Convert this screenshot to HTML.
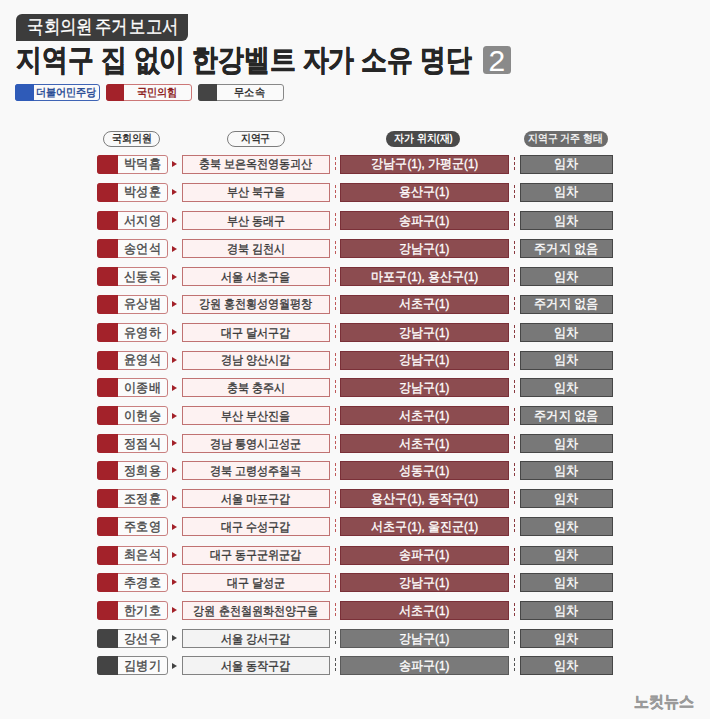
<!DOCTYPE html>
<html><head><meta charset="utf-8"><style>
*{margin:0;padding:0;box-sizing:border-box}
html,body{width:710px;height:719px;overflow:hidden}
body{background:#f9f9f9;font-family:"Liberation Sans",sans-serif;position:relative;color:#333}
span{display:inline-block;white-space:nowrap;transform-origin:50% 50%}
.badge{position:absolute;left:16px;top:14px;width:172px;height:26.5px;background:#3c3c3c;border-radius:6px 0 6px 0;color:#fff;font-size:19px;line-height:26.5px;text-align:center}
.badge span{transform:scaleX(0.86);word-spacing:-3px;-webkit-text-stroke:0.3px #fff;position:relative;left:-1.5px}
.title{position:absolute;left:16px;top:40px;font-size:30px;font-weight:bold;color:#262626;line-height:40px;white-space:nowrap;transform:scaleX(0.86);transform-origin:0 0;-webkit-text-stroke:0.6px #262626}
.num{position:absolute;left:483px;top:46.4px;width:27.5px;height:28px;background:#8a8a8a;border-radius:3.5px;color:#fff;font-size:30px;line-height:29px;text-align:center}
.lg{position:absolute;top:84.3px;height:17px;width:86px;border:1px solid;border-radius:3px;background:#fafafa;font-size:11px;font-weight:bold;line-height:15px}
.lg i{position:absolute;left:-1px;top:-1px;bottom:-1px;width:18px;border-radius:3px 0 0 3px}
.lg p{position:absolute;left:17px;right:0;text-align:center}
.lg span{transform:scaleX(0.92)}
.lb{left:15px;width:85px;border-color:#3f64b5;color:#2d4f96}
.lb i{background:#2f5bb8;width:18.5px}
.lr{left:105.6px;border-color:#c77;color:#8e1f1f}
.lr i{background:#a3222a}
.lk{left:197.7px;border-color:#888;color:#333}
.lk i{background:#444;width:19px}
.hp{position:absolute;top:130.6px;height:16.6px;border-radius:9px;font-size:10.5px;line-height:13.6px;text-align:center;font-weight:bold}
.hp span{transform:scaleX(0.9)}
.h1{left:103.4px;width:56.8px;border:1.6px solid #7c7c7c;color:#333}
.h2{left:227px;width:57.6px;border:1.6px solid #7c7c7c;color:#333}
.h3{left:385.7px;width:74.8px;background:#4a4a4a;color:#fff;line-height:15px}
.h4{left:523.8px;width:84px;background:#6c6c6c;color:#f0f0f0;line-height:15px}
.row{position:absolute;left:0;width:710px;height:19px}
.row span{position:relative;top:0.8px}
.nm{position:absolute;left:97.3px;top:0;width:70.6px;height:19px;border:1px solid;border-radius:3px;background:#fbfbfb;font-size:12px;line-height:17px;font-weight:normal;color:#474747;-webkit-text-stroke:0.35px #474747}
.nm i{position:absolute;left:-1px;top:-1px;bottom:-1px;width:20.5px;border-radius:3px 0 0 3px}
.nm p{position:absolute;left:19.5px;right:0;text-align:center}
.nm span{transform:scaleX(0.93);font-size:12.5px}
.ar{position:absolute;left:172px;top:6.4px;width:0;height:0;border-left:5px solid;border-top:3.6px solid transparent;border-bottom:3.6px solid transparent}
.rg{position:absolute;left:182.2px;top:0;width:147.7px;height:19px;border:1px solid;font-size:12px;line-height:17px;text-align:center;font-weight:normal;color:#383838;-webkit-text-stroke:0.35px #383838}
.rg span{transform:scaleX(0.92)}
.d1,.d2{position:absolute;top:2.2px;height:13px;width:1px}
.d1{left:335px}.d2{left:514px}
.pp{position:absolute;left:340.4px;top:0;width:168.3px;height:19px;border:1px solid;font-size:12px;line-height:17px;text-align:center;color:#fff;font-weight:normal;-webkit-text-stroke:0.35px #fff}
.pp span{transform:scaleX(0.925);font-size:12.5px}
.rs{position:absolute;left:520.2px;top:0;width:92.6px;height:19px;border:1px solid #474747;background:#787878;font-size:12px;line-height:17px;text-align:center;color:#f4f4f4;font-weight:bold}
.rs span{transform:scaleX(0.93);font-size:12.5px}
.r .nm{border-color:#c98080}.r .nm i{background:#a3222a}
.r .ar{border-left-color:#a3222a}
.r .rg{border-color:#c07272;background:#fdf2f2}
.r .d1{background:repeating-linear-gradient(to bottom,#c05a5a 0 3px,transparent 3px 5px)}
.r .d2{background:repeating-linear-gradient(to bottom,#8a3a40 0 3px,transparent 3px 5px)}
.r .pp{background:#8c4c50;border-color:#7a3038}
.g .nm{border-color:#888}.g .nm i{background:#444}
.g .ar{border-left-color:#444}
.g .rg{border-color:#828282;background:#f3f3f3}
.g .d1,.g .d2{background:repeating-linear-gradient(to bottom,#555 0 3px,transparent 3px 5px)}
.g .pp{background:#7a7a7a;border-color:#5a5a5a}
.logo{position:absolute;left:634px;top:692px;font-size:16px;font-weight:bold;color:#9a9a9a;-webkit-text-stroke:0.6px #9a9a9a}
.logo span{transform:scaleX(0.93);transform-origin:0 50%}

</style></head><body>
<div class="badge"><span>국회의원 주거 보고서</span></div>
<div class="title">지역구 집 없이 한강벨트 자가 소유 명단</div>
<div class="num">2</div>
<div class="lg lb"><i></i><p><span>더불어민주당</span></p></div>
<div class="lg lr"><i></i><p><span>국민의힘</span></p></div>
<div class="lg lk"><i></i><p><span>무소속</span></p></div>
<div class="hp h1"><span>국회의원</span></div>
<div class="hp h2"><span>지역구</span></div>
<div class="hp h3"><span>자가 위치(재)</span></div>
<div class="hp h4"><span>지역구 거주 형태</span></div>
<div class="row r" style="top:154.5px"><div class="nm"><i></i><p><span>박덕흠</span></p></div><b class="ar"></b><div class="rg"><span>충북 보은옥천영동괴산</span></div><s class="d1"></s><div class="pp"><span>강남구(1), 가평군(1)</span></div><s class="d2"></s><div class="rs"><span>임차</span></div></div>
<div class="row r" style="top:182.6px"><div class="nm"><i></i><p><span>박성훈</span></p></div><b class="ar"></b><div class="rg"><span>부산 북구을</span></div><s class="d1"></s><div class="pp"><span>용산구(1)</span></div><s class="d2"></s><div class="rs"><span>임차</span></div></div>
<div class="row r" style="top:210.9px"><div class="nm"><i></i><p><span>서지영</span></p></div><b class="ar"></b><div class="rg"><span>부산 동래구</span></div><s class="d1"></s><div class="pp"><span>송파구(1)</span></div><s class="d2"></s><div class="rs"><span>임차</span></div></div>
<div class="row r" style="top:239.2px"><div class="nm"><i></i><p><span>송언석</span></p></div><b class="ar"></b><div class="rg"><span>경북 김천시</span></div><s class="d1"></s><div class="pp"><span>강남구(1)</span></div><s class="d2"></s><div class="rs"><span>주거지 없음</span></div></div>
<div class="row r" style="top:267.2px"><div class="nm"><i></i><p><span>신동욱</span></p></div><b class="ar"></b><div class="rg"><span>서울 서초구을</span></div><s class="d1"></s><div class="pp"><span>마포구(1), 용산구(1)</span></div><s class="d2"></s><div class="rs"><span>임차</span></div></div>
<div class="row r" style="top:294.6px"><div class="nm"><i></i><p><span>유상범</span></p></div><b class="ar"></b><div class="rg"><span>강원 홍천횡성영월평창</span></div><s class="d1"></s><div class="pp"><span>서초구(1)</span></div><s class="d2"></s><div class="rs"><span>주거지 없음</span></div></div>
<div class="row r" style="top:322.8px"><div class="nm"><i></i><p><span>유영하</span></p></div><b class="ar"></b><div class="rg"><span>대구 달서구갑</span></div><s class="d1"></s><div class="pp"><span>강남구(1)</span></div><s class="d2"></s><div class="rs"><span>임차</span></div></div>
<div class="row r" style="top:350.5px"><div class="nm"><i></i><p><span>윤영석</span></p></div><b class="ar"></b><div class="rg"><span>경남 양산시갑</span></div><s class="d1"></s><div class="pp"><span>강남구(1)</span></div><s class="d2"></s><div class="rs"><span>임차</span></div></div>
<div class="row r" style="top:378.3px"><div class="nm"><i></i><p><span>이종배</span></p></div><b class="ar"></b><div class="rg"><span>충북 충주시</span></div><s class="d1"></s><div class="pp"><span>강남구(1)</span></div><s class="d2"></s><div class="rs"><span>임차</span></div></div>
<div class="row r" style="top:406.2px"><div class="nm"><i></i><p><span>이헌승</span></p></div><b class="ar"></b><div class="rg"><span>부산 부산진을</span></div><s class="d1"></s><div class="pp"><span>서초구(1)</span></div><s class="d2"></s><div class="rs"><span>주거지 없음</span></div></div>
<div class="row r" style="top:434.0px"><div class="nm"><i></i><p><span>정점식</span></p></div><b class="ar"></b><div class="rg"><span>경남 통영시고성군</span></div><s class="d1"></s><div class="pp"><span>서초구(1)</span></div><s class="d2"></s><div class="rs"><span>임차</span></div></div>
<div class="row r" style="top:460.8px"><div class="nm"><i></i><p><span>정희용</span></p></div><b class="ar"></b><div class="rg"><span>경북 고령성주칠곡</span></div><s class="d1"></s><div class="pp"><span>성동구(1)</span></div><s class="d2"></s><div class="rs"><span>임차</span></div></div>
<div class="row r" style="top:489.0px"><div class="nm"><i></i><p><span>조정훈</span></p></div><b class="ar"></b><div class="rg"><span>서울 마포구갑</span></div><s class="d1"></s><div class="pp"><span>용산구(1), 동작구(1)</span></div><s class="d2"></s><div class="rs"><span>임차</span></div></div>
<div class="row r" style="top:517.3px"><div class="nm"><i></i><p><span>주호영</span></p></div><b class="ar"></b><div class="rg"><span>대구 수성구갑</span></div><s class="d1"></s><div class="pp"><span>서초구(1), 울진군(1)</span></div><s class="d2"></s><div class="rs"><span>임차</span></div></div>
<div class="row r" style="top:545.5px"><div class="nm"><i></i><p><span>최은석</span></p></div><b class="ar"></b><div class="rg"><span>대구 동구군위군갑</span></div><s class="d1"></s><div class="pp"><span>송파구(1)</span></div><s class="d2"></s><div class="rs"><span>임차</span></div></div>
<div class="row r" style="top:573.1px"><div class="nm"><i></i><p><span>추경호</span></p></div><b class="ar"></b><div class="rg"><span>대구 달성군</span></div><s class="d1"></s><div class="pp"><span>강남구(1)</span></div><s class="d2"></s><div class="rs"><span>임차</span></div></div>
<div class="row r" style="top:600.9px"><div class="nm"><i></i><p><span>한기호</span></p></div><b class="ar"></b><div class="rg"><span>강원 춘천철원화천양구을</span></div><s class="d1"></s><div class="pp"><span>서초구(1)</span></div><s class="d2"></s><div class="rs"><span>임차</span></div></div>
<div class="row g" style="top:628.8px"><div class="nm"><i></i><p><span>강선우</span></p></div><b class="ar"></b><div class="rg"><span>서울 강서구갑</span></div><s class="d1"></s><div class="pp"><span>강남구(1)</span></div><s class="d2"></s><div class="rs"><span>임차</span></div></div>
<div class="row g" style="top:656.3px"><div class="nm"><i></i><p><span>김병기</span></p></div><b class="ar"></b><div class="rg"><span>서울 동작구갑</span></div><s class="d1"></s><div class="pp"><span>송파구(1)</span></div><s class="d2"></s><div class="rs"><span>임차</span></div></div>
<div class="logo"><span>노컷뉴스</span></div>
</body></html>
